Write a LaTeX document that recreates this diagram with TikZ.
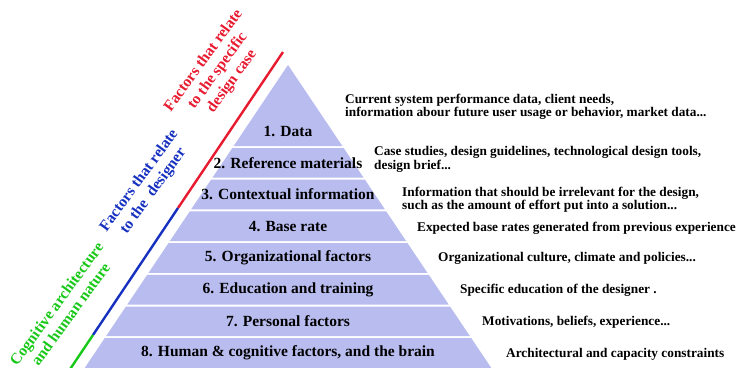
\documentclass[tikz,border=0pt]{standalone}
\usepackage{fontspec}
\setmainfont{Liberation Serif}
\definecolor{layerfill}{RGB}{184,188,238}
\definecolor{casered}{RGB}{232,26,48}
\definecolor{designerblue}{RGB}{22,48,192}
\definecolor{naturegreen}{RGB}{24,200,24}
\tikzset{
	layer/.style={fill=layerfill},
	lbl/.style={inner sep=0,font=\fontsize{15.5}{16}\selectfont\bfseries},
	desc/.style={anchor=west,inner sep=0,align=left,font=\fontsize{13.3}{13.5}\selectfont\bfseries},
	side/.style={inner sep=0,align=center,rotate=54,font=\fontsize{15.5}{17.5}\selectfont\bfseries},
	band/.style={line width=2.4pt}
}
\begin{document}
\begin{tikzpicture}[x=1pt,y=-1pt]
	\useasboundingbox (0,0) rectangle (739,367);
	\foreach \k/\txt in {1/{1. Data},2/{2. Reference materials},3/{3. Contextual information},4/{4. Base rate},5/{5. Organizational factors},6/{6. Education and training},7/{7. Personal factors},8/{8. Human \& cognitive factors, and the brain}}{
		\pgfmathsetmacro\yt{\k==1 ? 65 : 147+31.7*(\k-2)+1}
		\pgfmathsetmacro\yb{147+31.7*(\k-1)-1}
		\pgfmathsetmacro\wt{0.671*(\yt-65)}
		\pgfmathsetmacro\wb{0.671*(\yb-65)}
		\fill[layer] ({288-\wt},\yt) -- ({288+\wt},\yt) -- ({288+\wb},\yb) -- ({288-\wb},\yb) -- cycle;
		\node[lbl] (d\k) at (288,{147+31.7*(\k-1)-16}) {\txt};
	}
	\node[desc] (t1) at (345,107) {Current system performance data, client needs,\\information abour future user usage or behavior, market data...};
	\node[desc] (t2) at (374,159.5) {Case studies, design guidelines, technological design tools,\\design brief...};
	\node[desc] (t3) at (402,199.5) {Information that should be irrelevant for the design,\\such as the amount of effort put into a solution...};
	\node[desc] (t4) at (417,228) {Expected base rates generated from previous experience};
	\node[desc] (t5) at (438,258) {Organizational culture, climate and policies...};
	\node[desc] (t6) at (460,290) {Specific education of the designer .};
	\node[desc] (t7) at (482,322) {Motivations, beliefs, experience...};
	\node[desc] (t8) at (506,354) {Architectural and capacity constraints};
	\coordinate (r0) at (283,52);
	\coordinate (r1) at (178,208);
	\coordinate (b1) at (93,335);
	\coordinate (g1) at (69.5,370);
	\draw[band,casered] (r0) -- (r1);
	\draw[band,designerblue] (r1) -- (b1);
	\draw[band,naturegreen] (b1) -- (g1);
	\node[side,text=casered] (s1) at (218,71) {Factors that relate\\to the specific\\design case};
	\node[side,text=designerblue] (s2) at (146.5,186) {Factors that relate\\to the\ \ designer};
	\node[side,text=naturegreen] (s3) at (63.5,309) {Cognitive architecture\\and human nature};
\end{tikzpicture}
\end{document}
